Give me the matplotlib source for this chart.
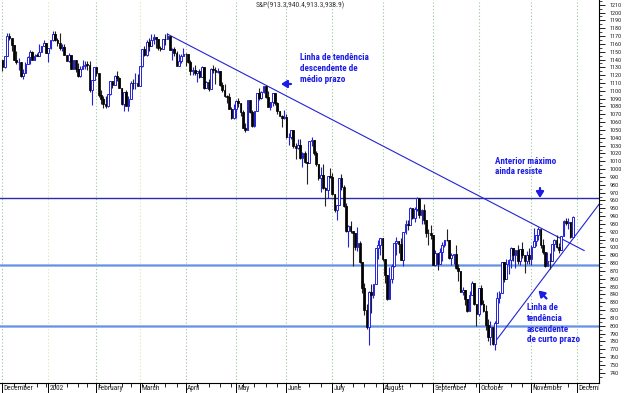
import matplotlib
matplotlib.use('Agg')
import matplotlib.pyplot as plt
from matplotlib import font_manager as fm
from matplotlib.transforms import blended_transform_factory
from matplotlib.patches import Rectangle
import numpy as np
import pandas as pd


def _pick_font():
    ents = fm.fontManager.ttflist
    names = {f.name for f in ents}
    for nm in ['Liberation Sans Narrow', 'Roboto Condensed', 'Open Sans Condensed',
               'Noto Sans Condensed', 'DejaVu Sans Condensed', 'Arial Narrow']:
        if nm in names:
            return dict(family=nm)
    for f in ents:
        st = f.stretch
        cond = (isinstance(st, str) and 'condensed' in st) or (not isinstance(st, str) and st < 500)
        if cond and f.name in ('Liberation Sans', 'DejaVu Sans', 'Noto Sans', 'Open Sans', 'Roboto'):
            return dict(family=f.name, stretch='condensed')
    return dict(family='Liberation Sans')


FONT = _pick_font()

# ---------------- data: S&P 500 daily, Dec 2001 - Nov 27 2002 ----------------
prev_close = 1139.45

closes = [
    # Dec 2001
    1129.90, 1144.80, 1170.35, 1167.10, 1158.31, 1139.93, 1136.76, 1137.07, 1119.38, 1123.09,
    1134.36, 1142.92, 1149.56, 1139.93, 1144.89, 1144.65, 1149.37, 1157.13, 1161.02, 1148.08,
    # Jan 2002
    1154.67, 1165.27, 1172.51, 1164.89, 1160.71, 1155.14, 1156.55, 1145.60, 1138.41, 1146.19,
    1127.57, 1138.88, 1127.58, 1119.31, 1128.18, 1132.15, 1133.28, 1133.06, 1100.64, 1113.57, 1130.20,
    # Feb
    1122.20, 1094.44, 1090.02, 1083.51, 1080.17, 1096.22, 1111.94, 1107.50, 1118.51, 1116.48,
    1104.18, 1083.34, 1097.98, 1080.95, 1089.84, 1109.43, 1109.38, 1109.89, 1106.73,
    # Mar
    1131.78, 1153.84, 1146.14, 1162.77, 1157.54, 1164.31, 1168.26, 1165.58, 1154.09, 1153.04,
    1166.16, 1165.55, 1170.29, 1151.85, 1153.59, 1148.70, 1131.87, 1138.49, 1144.58, 1147.39,
    # Apr
    1146.54, 1136.76, 1125.40, 1126.34, 1122.73, 1125.29, 1117.80, 1130.47, 1103.69, 1111.01,
    1102.55, 1128.37, 1126.07, 1124.47, 1125.17, 1107.83, 1100.96, 1093.14, 1091.48, 1076.32,
    1065.45, 1076.92,
    # May
    1086.46, 1084.56, 1073.43, 1052.67, 1049.49, 1088.85, 1073.01, 1054.99, 1074.56, 1097.28,
    1091.07, 1098.23, 1106.59, 1091.88, 1079.88, 1086.02, 1097.08, 1083.82, 1074.55, 1067.66,
    1064.66, 1067.14,
    # Jun
    1040.68, 1040.69, 1049.90, 1029.15, 1027.53, 1030.74, 1013.60, 1020.26, 1009.56, 1007.27,
    1036.17, 1037.14, 1019.99, 1006.29, 989.14, 992.72, 976.14, 973.53, 990.64, 989.82,
    # Jul
    968.65, 948.09, 953.99, 989.03, 976.98, 952.83, 920.47, 927.37, 921.39, 917.93,
    900.94, 906.04, 881.56, 847.75, 819.85, 797.70, 843.43, 838.68, 852.84, 898.96,
    902.78, 911.62,
    # Aug
    884.66, 864.24, 834.60, 859.57, 876.77, 905.46, 908.64, 903.80, 884.21, 919.62,
    930.25, 928.77, 950.70, 937.43, 949.36, 962.70, 940.86, 947.95, 934.82, 917.87,
    917.80, 916.07,
    # Sep
    878.02, 893.40, 879.15, 893.92, 902.96, 909.58, 909.45, 886.91, 889.81, 891.10,
    873.52, 869.46, 843.32, 845.39, 833.70, 819.29, 839.66, 854.95, 827.37, 815.28,
    # Oct
    847.91, 827.91, 818.95, 800.58, 785.28, 798.55, 776.76, 803.92, 835.32, 841.44,
    881.27, 860.02, 879.20, 884.39, 899.72, 890.16, 896.14, 882.50, 897.65, 890.23,
    882.15, 890.71, 885.76,
    # Nov
    900.96, 908.35, 915.39, 923.76, 902.65, 894.74, 876.19, 882.95, 882.53, 904.27,
    909.83, 900.36, 896.74, 914.15, 933.76, 930.55, 932.87, 913.31, 938.87,
]

highs = [
    1139.5, 1144.8, 1173.6, 1173.8, 1167.9, 1158.3, 1150.9, 1141.6, 1137.1, 1128.3,
    1137.3, 1145.1, 1152.4, 1151.4, 1147.5, 1147.8, 1159.2, 1157.1, 1164.6, 1161.2,
    1154.7, 1165.3, 1176.6, 1176.9, 1167.6, 1174.3, 1159.9, 1159.4, 1145.6, 1148.8,
    1146.2, 1139.3, 1138.9, 1135.3, 1131.4, 1139.5, 1138.3, 1138.6, 1137.5, 1113.8, 1130.2,
    1130.2, 1122.2, 1100.9, 1093.6, 1094.0, 1096.3, 1112.0, 1112.0, 1120.6, 1124.7,
    1117.1, 1104.2, 1098.3, 1101.5, 1093.9, 1112.3, 1115.1, 1123.1, 1121.6,
    1131.8, 1153.8, 1157.7, 1165.3, 1167.9, 1172.8, 1173.0, 1168.3, 1165.6, 1157.8,
    1166.2, 1172.7, 1173.9, 1170.3, 1155.1, 1156.5, 1151.0, 1147.0, 1146.9, 1154.5,
    1148.0, 1146.5, 1138.9, 1130.5, 1133.3, 1125.3, 1128.3, 1131.8, 1130.5, 1112.8,
    1114.9, 1129.4, 1133.0, 1130.5, 1128.8, 1125.2, 1111.2, 1108.5, 1094.4, 1096.8,
    1078.9, 1082.6,
    1088.9, 1091.4, 1084.6, 1075.0, 1058.7, 1088.9, 1088.9, 1075.4, 1074.8, 1097.7,
    1104.2, 1099.3, 1106.6, 1106.6, 1099.6, 1086.0, 1097.1, 1097.1, 1085.9, 1074.8,
    1069.5, 1076.0,
    1070.7, 1046.1, 1050.1, 1049.9, 1033.0, 1038.2, 1039.0, 1021.9, 1023.5, 1009.6,
    1036.2, 1040.8, 1037.6, 1023.0, 1006.3, 1002.1, 1005.9, 977.4, 990.7, 1001.8,
    994.5, 968.7, 954.0, 989.1, 993.6, 979.6, 956.3, 929.2, 934.3, 921.4,
    918.0, 926.5, 907.8, 881.6, 854.1, 827.7, 844.3, 853.8, 852.9, 899.0,
    909.8, 911.6,
    911.6, 884.7, 864.2, 874.4, 878.7, 905.8, 913.9, 908.6, 911.7, 919.6,
    935.4, 935.4, 951.2, 950.7, 951.2, 965.0, 962.7, 949.0, 955.8, 934.8,
    924.0, 928.2,
    916.1, 896.1, 893.4, 899.1, 907.3, 909.9, 924.0, 909.5, 892.8, 891.8,
    902.7, 878.9, 869.5, 849.3, 845.4, 833.7, 844.2, 856.5, 854.9, 827.4,
    848.0, 851.9, 833.3, 825.9, 808.9, 806.4, 798.6, 806.5, 843.3, 844.4,
    881.3, 881.3, 885.4, 884.6, 900.7, 899.7, 896.3, 902.9, 897.7, 907.4,
    890.6, 895.3, 898.6,
    903.4, 924.6, 915.5, 925.7, 923.8, 910.1, 894.7, 894.3, 892.5, 904.3,
    910.1, 915.9, 905.5, 915.1, 935.1, 937.2, 937.2, 932.9, 940.4,
]

lows = [
    1125.3, 1129.2, 1144.8, 1164.4, 1150.7, 1139.7, 1134.3, 1126.0, 1117.9, 1114.5,
    1122.7, 1134.3, 1134.7, 1139.9, 1139.9, 1144.6, 1144.6, 1149.4, 1157.1, 1148.0,
    1136.2, 1154.0, 1163.4, 1163.6, 1157.5, 1151.9, 1150.9, 1145.5, 1138.2, 1136.9,
    1127.5, 1127.6, 1124.5, 1117.9, 1117.4, 1128.2, 1127.8, 1126.7, 1098.7, 1081.7, 1113.6,
    1118.5, 1092.3, 1082.6, 1077.8, 1078.4, 1079.9, 1094.7, 1104.0, 1107.5, 1112.8,
    1103.2, 1082.2, 1074.4, 1080.6, 1074.6, 1089.8, 1101.7, 1102.3, 1106.7,
    1106.7, 1130.9, 1144.8, 1145.1, 1150.7, 1157.5, 1159.6, 1155.0, 1152.4, 1151.0,
    1153.0, 1159.1, 1165.6, 1151.6, 1139.5, 1144.6, 1131.9, 1131.6, 1135.3, 1144.6,
    1131.6, 1135.7, 1119.7, 1120.1, 1120.1, 1111.8, 1116.4, 1117.8, 1102.4, 1103.7,
    1099.4, 1102.6, 1123.2, 1109.3, 1122.6, 1105.6, 1098.9, 1092.5, 1084.8, 1076.3,
    1063.6, 1063.5,
    1065.3, 1079.5, 1068.3, 1052.6, 1048.0, 1049.5, 1072.2, 1053.9, 1053.9, 1074.6,
    1088.9, 1089.2, 1096.8, 1090.6, 1079.0, 1075.6, 1080.6, 1082.2, 1070.3, 1067.4,
    1054.3, 1063.4,
    1039.9, 1030.5, 1038.8, 1026.9, 1012.5, 1025.5, 1012.9, 1002.6, 1008.1, 981.6,
    1007.3, 1030.1, 1017.9, 1004.6, 985.7, 970.9, 974.2, 952.9, 963.7, 988.3,
    967.4, 945.5, 934.9, 954.0, 972.9, 951.7, 920.0, 900.9, 918.2, 876.5,
    897.1, 895.0, 880.6, 842.1, 813.3, 796.1, 775.7, 816.1, 835.9, 852.8,
    884.7, 889.9,
    882.5, 853.9, 833.4, 834.6, 854.1, 875.2, 890.8, 892.4, 883.6, 876.2,
    916.7, 922.2, 928.8, 936.0, 932.3, 946.5, 937.2, 930.4, 930.4, 913.3,
    903.3, 910.2,
    877.5, 875.7, 870.5, 879.2, 882.9, 900.5, 908.5, 884.8, 877.0, 879.3,
    872.4, 857.4, 843.1, 839.1, 825.8, 817.4, 818.5, 839.7, 826.8, 800.2,
    812.0, 826.5, 817.4, 794.1, 780.0, 775.5, 775.8, 768.6, 803.9, 828.9,
    841.4, 856.1, 860.0, 866.6, 873.1, 882.8, 873.8, 879.2, 877.0, 886.2,
    867.9, 879.2, 879.3,
    877.7, 900.9, 902.2, 909.5, 898.7, 891.6, 874.6, 876.2, 872.9, 882.5,
    895.3, 899.5, 893.1, 896.7, 914.2, 928.4, 923.3, 912.1, 913.3,
]

holidays = ['2001-12-25', '2002-01-01', '2002-01-21', '2002-02-18', '2002-03-29',
            '2002-05-27', '2002-07-04', '2002-09-02', '2002-11-28', '2002-12-25']
month_labels = ['December', '2002', 'February', 'March', 'April', 'May', 'June',
                'July', 'August', 'September', 'October', 'November', 'December']

support_resist = [962.7, 877.0, 799.0]
down_trend = ([72, 254], [1172.5, 896.0])
up_trend = ([214.5, 260.5], [777.0, 955.0])

title = 'S&P(913.3,940.4,913.3,938.9)'

# ---------------- build ----------------
closes = np.array(closes)
highs = np.array(highs)
lows = np.array(lows)
opens = np.concatenate([[prev_close], closes[:-1]])
idx = np.arange(len(closes))

all_days = pd.bdate_range('2001-12-03', '2002-12-31')
all_days = all_days[~all_days.isin(pd.to_datetime(holidays))]

W, H = 624, 393
fig = plt.figure(figsize=(W / 100, H / 100), dpi=100)
renderer = fig.canvas.get_renderer()
ax = fig.add_axes([0, 10 / H, 599 / W, 383 / H])
XL = (-1.09, 260.5)
ax.set_xlim(*XL)
ax.set_ylim(726.8, 1216.0)

BLUE = '#2323d6'
TXTBLUE = '#1c1ce8'


def fit_size(text, base, target_px, **kw):
    t = fig.text(0, 0, text, fontsize=base, **kw)
    w = t.get_window_extent(renderer).width
    t.remove()
    return base * target_px / w


# month gridlines
mstarts = [i for i in range(len(all_days)) if i == 0 or all_days[i].month != all_days[i - 1].month]
mstarts = [m for m in mstarts if m < XL[1]]
for k, m in enumerate(mstarts):
    col = '#eadbb8' if month_labels[k] in ('2002', 'March') else '#9cc49c'
    ax.axvline(m, color=col, lw=0.8, ls=(0, (1, 2)), zorder=0)

# horizontal lines
ax.axhline(support_resist[0], color='#2b2bb0', lw=1.0, zorder=1)
for lvl in support_resist[1:]:
    ax.axhline(lvl, color='#8fb3ee', lw=2.0, zorder=1)
    ax.axhline(lvl, color='#5a7ee0', lw=0.5, zorder=1)

# trendlines
ax.plot(*down_trend, color=BLUE, lw=0.8, zorder=2)
ax.plot(*up_trend, color=BLUE, lw=0.8, zorder=2)

# candles
up = closes >= opens
bottom = np.minimum(opens, closes)
height = np.maximum(np.abs(closes - opens), 0.6)
ax.bar(idx[up] + 0.45, height[up], bottom=bottom[up], width=0.55, color='#a3c3f0', lw=0, zorder=3)
ax.bar(idx[~up] + 0.45, height[~up], bottom=bottom[~up], width=0.55, color='#9a9a9a', lw=0, zorder=3)
ax.vlines(idx[up], lows[up], highs[up], color=BLUE, lw=0.8, zorder=4)
ax.vlines(idx[~up], lows[~up], highs[~up], color='#222222', lw=0.8, zorder=4)
ax.bar(idx[up], height[up], bottom=bottom[up], width=0.75, facecolor='white',
       edgecolor=BLUE, lw=0.7, zorder=5)
ax.bar(idx[~up], height[~up], bottom=bottom[~up], width=0.75, facecolor='black',
       edgecolor='black', lw=0.5, zorder=5)

# spines / axes
for s in ('top', 'left'):
    ax.spines[s].set_visible(False)
for s in ('bottom', 'right'):
    ax.spines[s].set_color('black')
    ax.spines[s].set_linewidth(0.8)

ylab_fs = min(5.6, fit_size('1210', 5.0, 12.4, **FONT))
ax.yaxis.tick_right()
ax.set_yticks(np.arange(740, 1211, 10))
ax.set_yticks(np.arange(735, 1216, 5), minor=True)
ax.tick_params(axis='y', which='major', length=4, width=0.6, pad=3.4, labelsize=ylab_fs,
               labelcolor='#222222', direction='out')
ax.tick_params(axis='y', which='minor', length=2, width=0.5, direction='out')
for lab in ax.get_yticklabels():
    lab.set_fontfamily(FONT['family'])
    if 'stretch' in FONT:
        lab.set_fontstretch(FONT['stretch'])

wstarts = [i for i in range(1, len(all_days)) if all_days[i].weekday() <= all_days[i - 1].weekday()]
wstarts = [w for w in wstarts if w < XL[1]]
ax.set_xticks(mstarts)
ax.set_xticklabels([])
ax.set_xticks(wstarts, minor=True)
ax.tick_params(axis='x', which='major', length=10, width=0.7, direction='out', pad=0)
ax.tick_params(axis='x', which='minor', length=3, width=0.6, direction='out')

mon_fs = min(6.2, fit_size('December', 5.5, 29.0, **FONT))
tr = blended_transform_factory(ax.transData, fig.transFigure)
clip = Rectangle((0, 0), 599 / W, 1, transform=fig.transFigure)
for k, m in enumerate(mstarts):
    t = fig.text(m + 0.6, (H - 385.0) / H, month_labels[k], transform=tr, ha='left', va='top',
                 fontsize=mon_fs, color='#222222', **FONT)
    t.set_clip_path(clip)


# title and annotations
def F(x, y):
    return x / W, 1 - y / H


title_fs = fit_size(title, 5.2, 88.0, **FONT)
fig.text(*F(300, 5.5), title, ha='center', va='center', fontsize=title_fs, color='#333333', **FONT)

ann_fs = min(7.0, fit_size('Linha de tendência', 6.5, 70.0, fontweight='bold', **FONT))
akw = dict(fontsize=ann_fs, fontweight='bold', color=TXTBLUE, ha='left', va='center', **FONT)
for j, line in enumerate(['Linha de tendência', 'descendente de', 'médio prazo']):
    fig.text(*F(300, 58 + 10.5 * j), line, **akw)
for j, line in enumerate(['Anterior máximo', 'ainda resiste']):
    fig.text(*F(495, 161.5 + 10.3 * j), line, **akw)
for j, line in enumerate(['Linha de', 'tendência', 'ascendente', 'de curto prazo']):
    fig.text(*F(527, 308 + 10.6 * j), line, **akw)

arrow = dict(arrowstyle='-|>,head_length=0.35,head_width=0.22', lw=1.6, color=TXTBLUE,
             shrinkA=0, shrinkB=0)
ax.annotate('', xy=(281, H - 84), xytext=(291, H - 84), xycoords='figure pixels',
            textcoords='figure pixels', arrowprops=arrow, annotation_clip=False)
ax.annotate('', xy=(540, H - 198), xytext=(540, H - 188), xycoords='figure pixels',
            textcoords='figure pixels', arrowprops=arrow, annotation_clip=False)
ax.annotate('', xy=(538.5, H - 290.5), xytext=(546.5, H - 298.5), xycoords='figure pixels',
            textcoords='figure pixels', arrowprops=arrow, annotation_clip=False)

fig.savefig('out.png', dpi=100)
